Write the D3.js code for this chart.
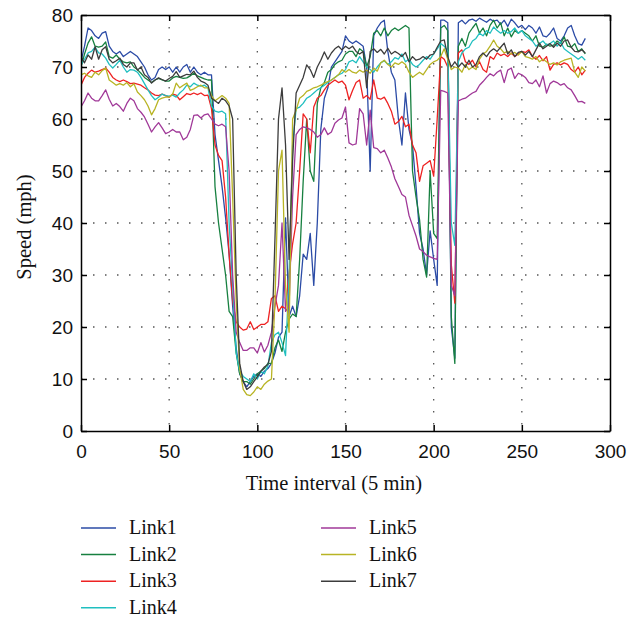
<!DOCTYPE html>
<html>
<head>
<meta charset="utf-8">
<script src="https://cdn.jsdelivr.net/npm/d3@7"></script>
<style>
  body { margin: 0; background: #fff; }
  svg { display: block; font-family: "Liberation Serif", "DejaVu Serif", serif; }
  .grid line { stroke: #555; stroke-width: 1.3; stroke-dasharray: 1.5 10.5; }
  .axis path, .axis line { stroke: #000; stroke-width: 1.5; }
  .axis text { fill: #111; font-size: 19px; }
</style>
</head>
<body>
<script>
// speed per link, one value every 2 time intervals (t = 0, 2, 4, ... 286)
const link1 = [71, 74, 77.5, 77, 76, 75.5, 76.5, 76.8, 74, 73,
  72.5, 73, 72, 72.5, 73, 72.5, 72, 71, 70, 68.5,
  67.5, 68, 69.5, 70, 69.5, 70, 69, 70, 69, 70,
  70.5, 69, 70, 69, 68.5, 69, 68.5, 68.5, 57, 52,
  47, 41, 34, 24, 16, 11, 9.5, 8.5, 9.5, 10.5,
  11, 10.5, 11.5, 12, 13, 15, 18, 19, 41, 22,
  24, 22, 26, 34, 33, 38, 28, 40, 58, 64,
  66, 70, 71, 72, 73, 76, 75, 74.5, 75, 74.5,
  74, 70, 50, 76, 77.5, 78.5, 79, 73, 69, 67.5,
  60, 55, 65, 58, 55, 47, 38, 35, 30, 38.5,
  33, 28, 79, 79, 78.5, 20, 14, 78.5, 79, 78.3,
  79, 79.2, 78.8, 79.4, 79, 78.6, 79.2, 78.8, 79, 78.2,
  79, 77.8, 79.2, 78.5, 77.6, 78, 77.2, 78, 77.5, 76.5,
  77.7, 76, 75.8, 76.5, 77.5, 75.5, 75, 76, 77.5, 78,
  76, 74.5, 74.2, 75.5]

const link2 = [70, 72.5, 74.6, 75.8, 74, 73.8, 74, 74.8, 72, 71.7,
  72.3, 71.5, 71, 70.8, 71, 70, 69.5, 68.8, 68, 67.5,
  67, 67.5, 67.8, 67.5, 67.3, 67.3, 67.9, 68.2, 68, 67.8,
  67.9, 68.3, 68.8, 68.3, 68, 67.7, 67.5, 67.5, 47, 40,
  35, 30, 23, 22, 15, 11, 9.5, 9.5, 9, 10,
  11, 11.5, 12, 13, 13, 16, 17.5, 15.3, 19, 21.5,
  22.5, 22, 33, 48, 60, 50, 48, 63, 66, 67,
  69, 69.5, 70.5, 71, 71.3, 72.5, 73, 73, 72, 73.5,
  73, 70, 72, 76.5, 77, 76, 77.5, 76, 77, 77.5,
  77, 77.5, 78, 77.5, 50, 45, 40.6, 33, 29.6, 50,
  38, 37, 77.5, 78, 77, 22, 13, 74, 75.5, 74,
  76.5, 77.5, 78.4, 76.5, 77.5, 76, 78, 79, 77.5, 78.5,
  76, 77.5, 75.8, 77, 76.5, 77, 76.5, 76, 75, 76,
  74, 73.8, 74.4, 74, 74.2, 75, 74.5, 75.8, 74, 73.8,
  74.5, 73, 73.5, 72.5]

const link3 = [66.5, 68, 68.8, 69.4, 69, 69.2, 69.5, 69.8, 69, 68,
  67.5, 67.2, 67.5, 67.2, 66.8, 66.9, 66.7, 66.5, 66, 65.6,
  65, 64.6, 64.5, 64.8, 64.5, 64.2, 64.8, 64.6, 63.7, 64.3,
  64.9, 64.7, 65, 64.7, 65, 64.5, 64.6, 62, 55, 53,
  52, 45, 34, 25, 21, 20, 19.4, 19.6, 21, 19.5,
  20, 20.5, 20.5, 21, 25.5, 26, 23, 24, 23.5, 30.4,
  36, 40, 50, 61, 60, 53.5, 62.3, 64, 64.5, 65.6,
  66.5, 67, 67.5, 67, 67.3, 66.5, 63.7, 65.5, 67, 67.5,
  64, 64.5, 63.8, 67.5, 64, 63.8, 64.2, 63, 61.5, 59,
  59.5, 60.5, 58.5, 59, 55, 53.5, 48, 51, 51.5, 52,
  49, 60, 72, 71.5, 70, 32, 24.6, 72.7, 73.3, 71,
  70.5, 71.3, 70, 71, 69.5, 69, 72, 71.5, 72.7, 72.2,
  72.5, 72, 72.7, 72, 72.5, 73, 72.8, 73.3, 72, 71.5,
  72.2, 71.2, 72, 69.4, 70.5, 70.8, 70.4, 70.8, 70.5, 69.5,
  69, 70, 68.5, 69.4]

const link4 = [70.4, 71.5, 72.7, 73, 73.8, 72.7, 72.5, 71.7, 70.5, 69.8,
  70.5, 71.3, 70, 69, 69.5, 69.4, 69, 68, 66.8, 65.6,
  64.5, 63.7, 64.2, 64.8, 64.5, 64.4, 64.6, 64.2, 65, 65.6,
  66.5, 66.2, 66.9, 66.5, 66.3, 66.5, 66, 62.5, 61.5, 61.3,
  61.5, 61, 40, 28, 15, 11.5, 10.5, 10, 9.5, 11,
  10, 11.5, 11, 12.5, 17, 18.5, 19, 17, 14.5, 30,
  55, 62, 62.3, 63, 64, 64.4, 65, 65.6, 66, 66.5,
  67, 67.5, 68, 68.5, 68.8, 69.5, 71, 71.3, 70.8, 72,
  71, 70, 69.5, 69, 70, 70.8, 71.2, 70.5, 71, 71.8,
  71.5, 72.5, 71, 71.5, 70.5, 70, 70.5, 71.3, 72, 71.5,
  72.5, 73.5, 74.5, 74, 73, 40, 35.7, 71, 72.7, 73.5,
  73.8, 75, 75.5, 76.5, 76, 77, 76.5, 77.7, 77, 76.5,
  77, 76.5, 76.8, 77.5, 76.5, 77, 76, 75.5, 75, 74,
  74.5, 75, 74.2, 74.5, 75, 74, 74.8, 73.5, 73, 72.5,
  72, 71.5, 72, 71.3]

const link5 = [62.3, 63.5, 65, 64, 63.5, 63.5, 64.5, 65.6, 63.8, 62.5,
  63, 62.4, 61.5, 63, 64, 63.5, 62, 61.3, 60.4, 59,
  57.5, 58.5, 59.3, 58.3, 57.2, 57.5, 58, 57.5, 57.5, 56,
  56.5, 58, 60.7, 60.8, 60.2, 60.8, 61, 60, 59, 58.7,
  59, 58.5, 50, 30, 19, 17, 15.5, 15.5, 16, 16,
  15, 17, 15.2, 16.5, 19, 24, 28, 40, 23, 24,
  45, 57, 58, 58.5, 58.3, 58, 57.5, 56.5, 57, 58.3,
  57, 57.5, 59.2, 59.8, 60.2, 62.3, 55.4, 55, 55.2, 62,
  61, 55, 61.7, 54.5, 54.3, 53.5, 54, 52.5, 50.8, 48.5,
  47, 45.5, 45, 41.5, 39.5, 37.5, 35, 34.5, 33.8, 33.5,
  33.2, 33, 65.5, 65.3, 65, 28, 26, 63.5, 63.8, 64,
  64.5, 65, 65.3, 66.5, 67.2, 68, 68.7, 68.3, 69, 69.4,
  67, 69.4, 69.8, 67.8, 68.8, 68.5, 68, 67, 66.8, 67.5,
  66.2, 68.3, 65, 66.8, 67.3, 67, 66.5, 66.8, 66, 65.6,
  64.5, 63.3, 63.4, 63]

const link6 = [68.5, 68.8, 68.3, 68, 69, 68.5, 69.3, 69.8, 67.5, 67,
  66.5, 66.8, 66.5, 67, 66.2, 66.8, 65.2, 64.5, 63.7, 62.5,
  60.8, 62, 63.7, 64, 64.2, 64.2, 64.8, 66.9, 66, 66.5,
  66.9, 65.5, 65.8, 66.2, 66.5, 66, 66, 64.5, 63.5, 64,
  64.5, 64, 63, 45, 25, 12, 8, 7, 6.8, 7.5,
  8.5, 8, 9, 9.6, 10, 25, 50, 54, 28, 19,
  60, 61.7, 64, 64.5, 65.3, 65.6, 66, 66.2, 66.5, 66.9,
  67.2, 67.5, 68, 68.5, 69.5, 69, 69.5, 69, 68.8, 69.4,
  69, 69.4, 68.8, 69.8, 69.2, 70.8, 71.3, 70.5, 70, 70.8,
  70.5, 71, 70.5, 69, 68, 68.5, 69, 68.5, 69.5, 70.5,
  71, 71.3, 72, 73.5, 71.5, 69.5, 70, 69.8, 69, 70.5,
  69.5, 70, 69.5, 71.5, 72.5, 73, 74, 75.2, 74, 73.5,
  72.7, 73, 72.5, 72.8, 72.3, 73, 72, 71.8, 71.5, 72,
  71, 71.5, 71, 70.5, 70.8, 70.4, 71, 71.3, 71.5, 71.7,
  69, 68, 70, 69.2]

const link7 = [72, 70.8, 72.3, 71.5, 73.9, 71.5, 73.3, 73.9, 71.5, 70.8,
  71.2, 71.7, 70.5, 70, 70.8, 70.8, 69.4, 70, 68.5, 68,
  66.9, 67.5, 67.9, 67.6, 67.3, 67.8, 68.2, 69.1, 68, 68.3,
  68.6, 68.5, 69.2, 68, 67.3, 67, 66.5, 64, 63.5, 63,
  64, 63.5, 62.5, 60, 30, 13, 9.5, 8, 8.5, 9.5,
  10.4, 11.5, 12.3, 12.8, 15.3, 37, 60, 66, 55, 33,
  52, 65, 66.5, 68, 70.4, 69.5, 68, 70, 71.3, 72.9,
  71.5, 72.7, 73.5, 74, 73.3, 74, 73.5, 74, 73, 72.5,
  73, 66, 73, 73.5, 72.8, 73.4, 72.5, 73.6, 72.5, 73,
  72.6, 72, 72.8, 71, 72, 71.3, 71.5, 72, 71.5, 72.3,
  72.5, 73.8, 75, 75.2, 72, 70, 71, 70, 70.8, 70,
  71.3, 70, 70.5, 72, 72.7, 72, 73, 73.5, 73, 73.8,
  74.6, 72.5, 73.3, 72, 72.8, 73, 72.3, 73, 72, 73.3,
  74.6, 73.5, 74, 74.5, 73.8, 74.6, 74, 75, 75.2, 73.8,
  73, 72.9, 73.3, 72.7]

const linkNames = ["Link1", "Link2", "Link3", "Link4", "Link5", "Link6", "Link7"]
const linkColors = ["#2b4ba6", "#178040", "#ee2222", "#20bfc0", "#a03898", "#b8b424", "#3c3c3c"]
const xTicks = [0, 50, 100, 150, 200, 250, 300]
const yTicks = [0, 10, 20, 30, 40, 50, 60, 70, 80]
const step = 2

let series = [link1, link2, link3, link4, link5, link6, link7]

let width = 642
let height = 618
let plotLeft = 81, plotRight = 610, plotTop = 15, plotBottom = 431

let svg = d3.select("body")
            .append("svg")
            .attr("width", width)
            .attr("height", height)

svg.append("rect").attr("width", width).attr("height", height).attr("fill", "#fff")

let xScale = d3.scaleLinear().domain([0, 300]).range([plotLeft, plotRight])
let yScale = d3.scaleLinear().domain([0, 80]).range([plotBottom, plotTop])

// dotted grid
let grid = svg.append("g").attr("class", "grid")
grid.selectAll(".gx")
    .data(xTicks.slice(1, -1))
    .enter()
    .append("line")
    .attr("x1", d => xScale(d)).attr("x2", d => xScale(d))
    .attr("y1", plotTop).attr("y2", plotBottom)
grid.selectAll(".gy")
    .data(yTicks.slice(1, -1))
    .enter()
    .append("line")
    .attr("x1", plotLeft).attr("x2", plotRight)
    .attr("y1", d => yScale(d)).attr("y2", d => yScale(d))

svg.append("clipPath").attr("id", "plot")
   .append("rect")
   .attr("x", plotLeft).attr("y", plotTop)
   .attr("width", plotRight - plotLeft).attr("height", plotBottom - plotTop)

let line = d3.line()
             .x((d, i) => xScale(i * step))
             .y(d => yScale(d))

svg.append("g")
   .attr("clip-path", "url(#plot)")
   .selectAll("path")
   .data(series)
   .enter()
   .append("path")
   .attr("d", d => line(d))
   .attr("fill", "none")
   .attr("stroke", (d, i) => linkColors[i])
   .attr("stroke-width", 1.3)
   .attr("stroke-linejoin", "round")

// axes, ticks pointing inward, box on top and right
let xAxis = d3.axisBottom(xScale).tickValues(xTicks).tickSizeInner(-6).tickSizeOuter(0)
let gx = svg.append("g")
            .attr("class", "axis")
            .attr("transform", "translate(0," + plotBottom + ")")
            .call(xAxis)
gx.selectAll("text").attr("y", 27).attr("dy", null)

let yAxis = d3.axisLeft(yScale).tickValues(yTicks).tickSizeInner(-6).tickSizeOuter(0).tickPadding(8)
svg.append("g")
   .attr("class", "axis")
   .attr("transform", "translate(" + plotLeft + ",0)")
   .call(yAxis)

svg.append("g")
   .attr("class", "axis")
   .attr("transform", "translate(0," + plotTop + ")")
   .call(d3.axisTop(xScale).tickValues(xTicks).tickSizeInner(-6).tickSizeOuter(0).tickFormat(""))

svg.append("g")
   .attr("class", "axis")
   .attr("transform", "translate(" + plotRight + ",0)")
   .call(d3.axisRight(yScale).tickValues(yTicks).tickSizeInner(-6).tickSizeOuter(0).tickFormat(""))

svg.append("text")
   .attr("x", 334)
   .attr("y", 490)
   .attr("text-anchor", "middle")
   .attr("font-size", 20.5)
   .attr("fill", "#111")
   .text("Time interval (5 min)")

svg.append("text")
   .attr("transform", "translate(31," + 227 + ") rotate(-90)")
   .attr("text-anchor", "middle")
   .attr("font-size", 20.5)
   .attr("fill", "#111")
   .text("Speed (mph)")

// legend: two columns
let legend = svg.append("g")
let items = legend.selectAll("g")
                  .data(linkNames)
                  .enter()
                  .append("g")
                  .attr("transform", (d, i) => {
                      let col = i < 4 ? 0 : 1
                      let row = i < 4 ? i : i - 4
                      return "translate(" + (81 + col * 240) + "," + (528 + row * 26.6) + ")"
                  })
items.append("line")
     .attr("x1", 0).attr("x2", 35)
     .attr("stroke", (d, i) => linkColors[i])
     .attr("stroke-width", 1.5)
items.append("text")
     .attr("x", 48)
     .attr("y", 6)
     .attr("font-size", 20)
     .attr("fill", "#111")
     .text(d => d)
</script>
</body>
</html>
